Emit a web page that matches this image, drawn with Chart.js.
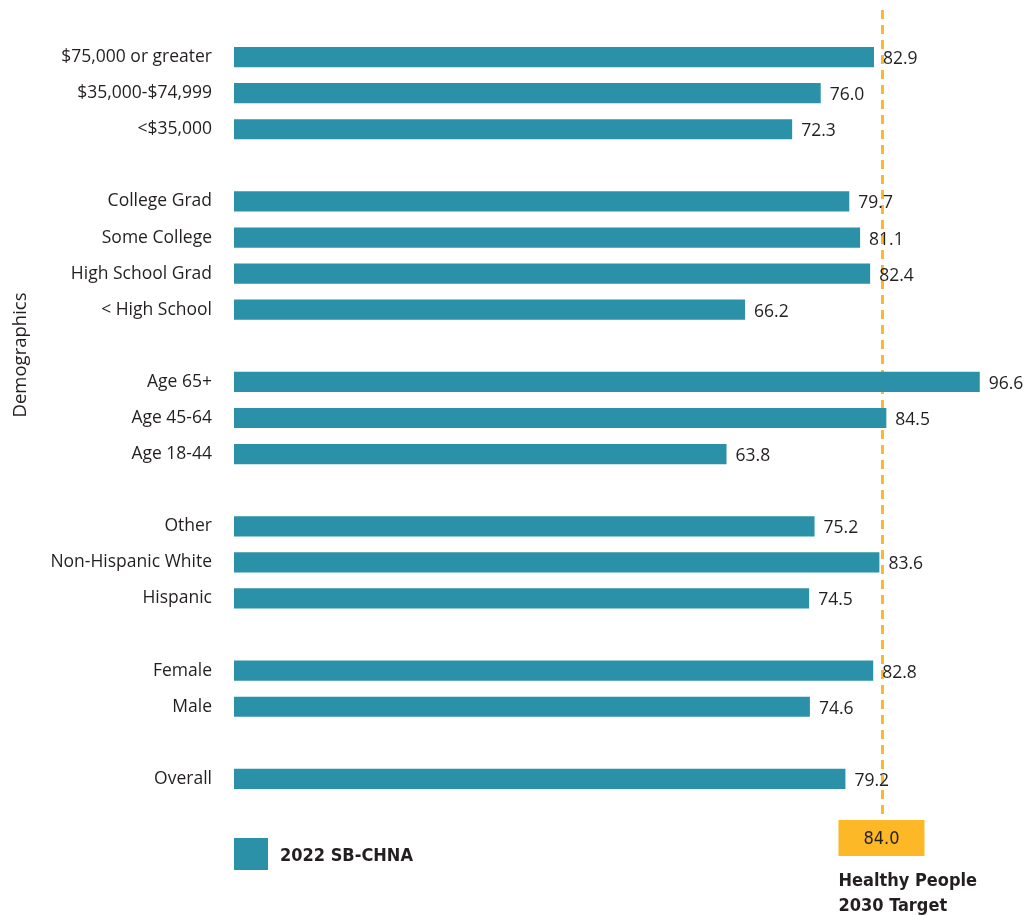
<!DOCTYPE html>
<html>
<head>
<meta charset="utf-8">
<script src="https://cdn.jsdelivr.net/npm/chart.js@4"></script>
<style>
  html, body { margin: 0; padding: 0; background: #fff; }
  #wrap { width: 1033px; height: 915px; }
</style>
</head>
<body>
<div id="wrap"><canvas id="chart" width="1033" height="915"></canvas></div>
<script>
// Categories top to bottom, "" rows are the gaps between groups
const categories = [
  "$75,000 or greater", "$35,000-$74,999", "<$35,000", "",
  "College Grad", "Some College", "High School Grad", "< High School", "",
  "Age 65+", "Age 45-64", "Age 18-44", "",
  "Other", "Non-Hispanic White", "Hispanic", "",
  "Female", "Male", "",
  "Overall"
];
const values = [
  82.9, 76.0, 72.3, null,
  79.7, 81.1, 82.4, 66.2, null,
  96.6, 84.5, 63.8, null,
  75.2, 83.6, 74.5, null,
  82.8, 74.6, null,
  79.2
];
const seriesName = "2022 SB-CHNA";
const targetValue = 84.0;
const targetLines = ["Healthy People", "2030 Target"];
const axisTitle = "Demographics";

const barColor = "#2B91A8";
const targetColor = "#FDB827";
const textColor = "#231F20";
const labelFont = '17.5px "Open Sans", sans-serif';
const boldFont = 'bold 18px "DejaVu Sans Condensed", "DejaVu Sans", sans-serif';

// target line behind bars, value labels + legend + target box on top
const extras = {
  id: "extras",
  beforeDatasetsDraw(chart) {
    const ctx = chart.ctx;
    const x = chart.scales.x.getPixelForValue(targetValue);
    ctx.save();
    ctx.strokeStyle = targetColor;
    ctx.lineWidth = 3;
    ctx.setLineDash([9, 6]);
    ctx.beginPath();
    ctx.moveTo(x, 10);
    ctx.lineTo(x, 820);
    ctx.stroke();
    ctx.restore();
  },
  afterDatasetsDraw(chart) {
    const ctx = chart.ctx;
    const meta = chart.getDatasetMeta(0);
    ctx.save();
    ctx.font = labelFont;
    ctx.fillStyle = textColor;
    ctx.textBaseline = "middle";
    ctx.textAlign = "left";
    meta.data.forEach((bar, i) => {
      if (values[i] == null) return;
      ctx.fillText(values[i].toFixed(1), bar.x + 9, bar.y + 2);
    });

    // y axis title
    ctx.save();
    ctx.translate(21, 355);
    ctx.rotate(-Math.PI / 2);
    ctx.textAlign = "center";
    ctx.font = '18.5px "Open Sans", sans-serif';
    ctx.fillText(axisTitle, 0, 0);
    ctx.restore();

    // legend
    ctx.fillStyle = barColor;
    ctx.fillRect(234, 838, 34, 32);
    ctx.fillStyle = textColor;
    ctx.font = boldFont;
    ctx.fillText(seriesName, 280, 856);

    // target box
    const tx = chart.scales.x.getPixelForValue(targetValue);
    ctx.fillStyle = targetColor;
    ctx.fillRect(tx - 44, 820, 86, 36);
    ctx.fillStyle = textColor;
    ctx.textAlign = "center";
    ctx.font = '18px "DejaVu Sans Condensed", "DejaVu Sans", sans-serif';
    ctx.fillText(targetValue.toFixed(1), tx - 1, 839);
    ctx.textAlign = "left";
    ctx.font = boldFont;
    ctx.fillText(targetLines[0], tx - 44, 881);
    ctx.fillText(targetLines[1], tx - 44, 906);
    ctx.restore();
  }
};

new Chart(document.getElementById("chart"), {
  type: "bar",
  data: {
    labels: categories,
    datasets: [{
      label: seriesName,
      data: values,
      backgroundColor: barColor,
      borderWidth: 0,
      categoryPercentage: 1,
      barPercentage: 0.56
    }]
  },
  options: {
    indexAxis: "y",
    responsive: false,
    animation: false,
    layout: { padding: { top: 39, bottom: 118, left: 0, right: 27 } },
    plugins: {
      legend: { display: false },
      tooltip: { enabled: false }
    },
    scales: {
      x: { display: false, min: 0, max: 100 },
      y: {
        afterFit: (scale) => { scale.width = 234; },
        grid: { display: false, drawTicks: false },
        border: { display: false },
        ticks: {
          color: textColor,
          font: { family: '"Open Sans", sans-serif', size: 17.5 },
          padding: 22,
          autoSkip: false
        }
      }
    }
  },
  plugins: [extras]
});
</script>
</body>
</html>
